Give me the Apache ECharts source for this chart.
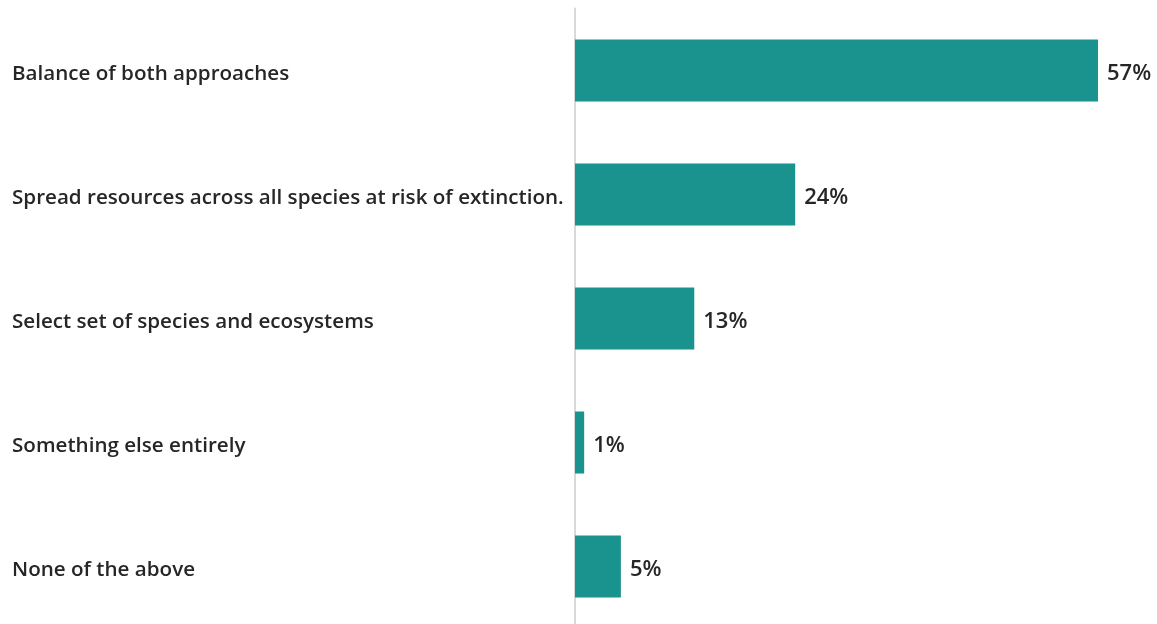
<!DOCTYPE html>
<html>
<head>
<meta charset="utf-8">
<script src="https://cdn.jsdelivr.net/npm/echarts@6/dist/echarts.min.js"></script>
<style>
  html, body { margin: 0; padding: 0; background: #fff; overflow: hidden; }
  /* 最后一条的带宽超出画面底部一点，所以容器比窗口略高 */
  #chart { width: 1157px; height: 632px; }
</style>
</head>
<body>
<div id="chart"></div>
<script>
const categories = [
  'Balance of both approaches',
  'Spread resources across all species at risk of extinction.',
  'Select set of species and ecosystems',
  'Something else entirely',
  'None of the above'
]
const shares = [57, 24, 13, 1, 5]

const chart = echarts.init(document.getElementById('chart'))

const textStyle = {
  color: '#262626',
  fontFamily: 'Open Sans',
  fontWeight: 600
}

// 按图从上往下排
chart.setOption({
  animation: false,
  grid: { left: 575, right: 31.5, top: 8.5, bottom: 3.5 },
  xAxis: {
    type: 'value',
    min: 0,
    max: 60,
    show: false
  },
  yAxis: {
    type: 'category',
    data: categories,
    inverse: true,
    axisLine: { show: true, lineStyle: { color: '#d9d9d9', width: 2 } },
    axisTick: { show: false },
    axisLabel: {
      align: 'left',
      margin: 563,
      formatter: v => '{t|' + v + '}',
      rich: {
        t: { ...textStyle, fontSize: 20.6, padding: [7, 0, 0, 0] }
      }
    }
  },
  series: [{
    type: 'bar',
    data: shares,
    barWidth: 62,
    itemStyle: { color: '#1a928e' },
    label: {
      show: true,
      position: 'right',
      distance: 9,
      offset: [0, 3],
      formatter: '{c}%',
      ...textStyle,
      fontSize: 22
    }
  }]
})
</script>
</body>
</html>
